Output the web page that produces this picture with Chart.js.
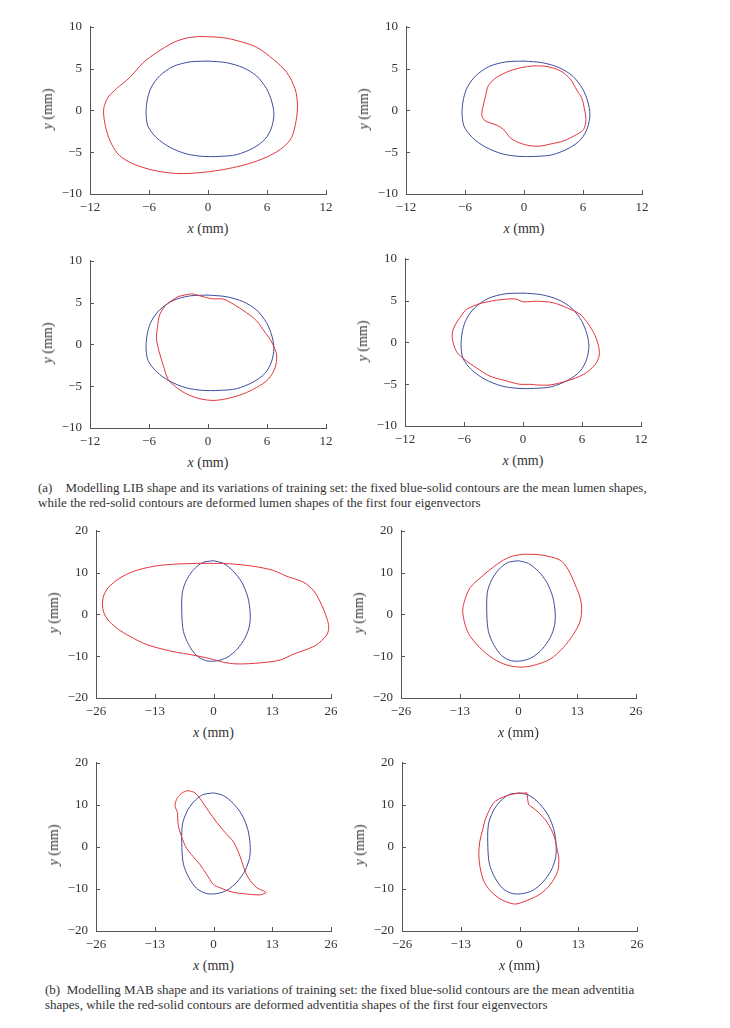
<!DOCTYPE html>
<html>
<head>
<meta charset="utf-8">
<script src="https://cdn.jsdelivr.net/npm/chart.js@4.4.0/dist/chart.umd.min.js"></script>
<style>
  body { margin: 0; background: #fff; width: 730px; height: 1028px; position: relative; overflow: hidden;
         font-family: "Liberation Serif", "DejaVu Serif", serif; color: #333; }
  canvas { position: absolute; }
  .yt { position: absolute; transform: translate(-50%, -50%) rotate(-90deg); font-size: 14px; white-space: nowrap; }
  .xt { position: absolute; transform: translate(-50%, -50%); font-size: 14px; white-space: nowrap; }
  .cap { position: absolute; font-size: 13px; white-space: nowrap; transform: translateY(-50%); }
</style>
</head>
<body>
<div class="cap" style="left:38px;top:488px">(a)&nbsp;&nbsp;&nbsp; Modelling LIB shape and its variations of training set: the fixed blue-solid contours are the mean lumen shapes,</div>
<div class="cap" style="left:38px;top:503px">while the red-solid contours are deformed lumen shapes of the first four eigenvectors</div>
<div class="cap" style="left:45px;top:990px">(b)&nbsp; Modelling MAB shape and its variations of training set: the fixed blue-solid contours are the mean adventitia</div>
<div class="cap" style="left:45px;top:1005px">shapes, while the red-solid contours are deformed adventitia shapes of the first four eigenvectors</div>

<script>
// =========================
// DATA (x, y in mm)
// =========================

const xTicksLib = [-12, -6, 0, 6, 12];
const yTicksLib = [-10, -5, 0, 5, 10];
const xTicksMab = [-26, -13, 0, 13, 26];
const yTicksMab = [-20, -10, 0, 10, 20];

// mean lumen shape (blue)
const lumenMean = [
  [0, 5.9], [1.9, 5.7], [3.6, 5.1], [4.95, 4.1], [5.95, 2.6], [6.5, 1.0], [6.7, -0.5],
  [6.45, -2.1], [5.8, -3.45], [4.6, -4.5], [2.9, -5.3], [1.2, -5.5], [-0.5, -5.5],
  [-2.2, -5.2], [-3.9, -4.4], [-5.25, -3.25], [-6.1, -1.9], [-6.3, -0.3], [-6.15, 1.4],
  [-5.75, 2.8], [-4.9, 4.15], [-3.55, 5.25], [-1.85, 5.8], [0, 5.9]
];

// deformed lumen shapes (red), first four eigenvectors
const lumenEig1 = [
  [-0.85, 8.85], [1.55, 8.7], [3.25, 8.25], [4.95, 7.55], [6.65, 6.1], [8.0, 4.55], [8.85, 2.6],
  [9.1, 0.65], [8.95, -1.3], [8.5, -3.25], [7.65, -4.4], [6.3, -5.4], [4.6, -6.2], [2.9, -6.75],
  [1.2, -7.15], [-0.85, -7.45], [-3.2, -7.55], [-5.6, -7.15], [-7.6, -6.4], [-9.0, -5.4],
  [-9.8, -4.05], [-10.25, -2.7], [-10.55, -1.1], [-10.6, 0.25], [-10.15, 1.6], [-9.3, 2.6],
  [-7.95, 3.95], [-6.6, 5.7], [-5.25, 6.9], [-3.55, 8.1], [-2.2, 8.65], [-0.85, 8.85]
];
const lumenEig2 = [
  [0.97, 5.33], [2.33, 5.25], [3.68, 4.74], [4.7, 3.76], [5.38, 2.4], [5.89, 1.42], [6.13, 0.25],
  [6.3, -1.1], [6.06, -2.28], [5.38, -2.87], [4.02, -3.65], [2.66, -4.03], [1.65, -4.27],
  [0.63, -4.23], [-0.56, -3.84], [-1.41, -3.26], [-2.09, -2.28], [-2.77, -1.77], [-3.96, -1.23],
  [-4.3, -0.53], [-4.13, 0.64], [-3.89, 1.81], [-3.62, 2.98], [-2.77, 3.96], [-1.41, 4.74],
  [-0.22, 5.13], [0.97, 5.33]
];
const lumenEig3 = [
  [-3.04, 5.73], [-1.68, 6.04], [-0.83, 5.81], [0.36, 5.46], [1.54, 5.42], [2.39, 4.95],
  [3.92, 3.79], [4.94, 2.82], [5.79, 1.46], [6.47, 0.29], [6.98, -1.26], [6.81, -2.82],
  [6.13, -4.17], [4.94, -5.15], [3.58, -5.92], [1.88, -6.5], [0.53, -6.7], [-0.83, -6.5],
  [-2.19, -5.92], [-3.21, -5.15], [-4.06, -4.17], [-4.57, -2.43], [-4.97, -0.87], [-5.24, 0.68],
  [-5.14, 2.04], [-4.9, 3.59], [-4.23, 4.76], [-3.04, 5.73]
];
const lumenEig4 = [
  [-4.37, 4.66], [-2.68, 5.05], [-0.81, 5.2], [0.03, 4.85], [1.39, 4.93], [3.08, 4.74],
  [4.44, 4.15], [5.8, 3.37], [6.64, 2.2], [7.32, 0.84], [7.66, -0.33], [7.76, -1.5],
  [7.32, -2.67], [6.14, -3.84], [4.44, -4.62], [2.75, -5.09], [1.39, -5.09], [0.71, -5.01],
  [-0.31, -5.01], [-1.66, -4.62], [-3.36, -4.04], [-4.71, -3.06], [-5.9, -2.09], [-6.75, -1.11],
  [-7.19, 0.45], [-7.08, 1.62], [-6.41, 2.98], [-5.73, 3.96], [-4.37, 4.66]
];

// mean adventitia shape (blue)
const mabMean = [
  [0, 12.85], [2.2, 12.2], [4.4, 10.3], [6.3, 7.6], [7.6, 4.1], [8.1, 0.6], [8.0, -2.5],
  [7.0, -5.6], [5.2, -8.35], [3.0, -10.3], [0.74, -11.1], [-1.5, -11.1], [-3.7, -9.9],
  [-5.5, -7.2], [-6.65, -4.1], [-7.0, -0.2], [-6.9, 5.2], [-5.9, 8.35], [-4.4, 10.7],
  [-2.4, 12.4], [0, 12.85]
];

// deformed adventitia shapes (red)
const mabEig1 = [
  [-3.7, 12.2], [0, 12.2], [3.7, 12.1], [8.9, 11.5], [13.3, 10.5], [16.25, 9.1], [19.9, 7.7],
  [22.2, 5.6], [24.0, 2.1], [25.1, -1.0], [25.5, -2.9], [25.1, -4.85], [22.9, -7.2],
  [20.7, -8.35], [17.7, -9.5], [14.8, -10.9], [10.3, -11.6], [5.2, -11.85], [2.2, -11.45],
  [0, -10.8], [-3.7, -9.9], [-9.6, -8.75], [-14.8, -7.2], [-18.5, -5.25], [-21.4, -3.3],
  [-23.6, -0.97], [-24.5, 1.35], [-24.4, 4.1], [-23.3, 6.4], [-20.7, 8.7], [-17.7, 10.3],
  [-13.3, 11.5], [-8.9, 12.0], [-3.7, 12.2]
];
const mabEig2 = [
  [1.07, 14.4], [4.76, 14.25], [9.2, 13.0], [11.0, 10.7], [12.5, 7.2], [13.6, 4.1], [13.98, 1.36],
  [13.6, -1.75], [12.1, -4.85], [9.9, -7.95], [7.0, -10.7], [4.0, -12.0], [1.07, -12.6],
  [-1.9, -12.3], [-4.8, -11.1], [-7.8, -8.75], [-10.7, -5.25], [-11.8, -2.5], [-12.35, 0.97],
  [-11.8, 3.7], [-10.7, 6.4], [-8.5, 8.7], [-6.3, 10.7], [-3.35, 13.0], [-1.14, 14.0], [1.07, 14.4]
];
const mabEig3 = [
  [-5.6, 13.4], [-6.7, 13.0], [-8.0, 11.7], [-8.5, 9.75], [-8.0, 8.2], [-7.8, 5.1], [-7.05, 2.4],
  [-5.95, -0.35], [-4.5, -2.3], [-3.0, -4.2], [-1.5, -6.55], [-0.04, -8.9], [1.4, -9.7],
  [4.4, -10.8], [7.3, -11.2], [10.3, -11.4], [11.6, -10.8], [9.6, -9.7], [7.7, -7.35],
  [6.6, -4.6], [5.9, -2.3], [4.4, 1.2], [2.5, 3.5], [0.7, 5.85], [-1.15, 8.6], [-2.6, 10.9],
  [-4.1, 12.85], [-5.6, 13.4]
];
const mabEig4 = [
  [1.66, 12.85], [2.0, 10.1], [2.4, 9.75], [4.2, 8.2], [6.1, 5.85], [7.6, 2.75], [8.3, -0.35],
  [8.7, -2.7], [8.45, -5.8], [6.85, -8.9], [4.6, -11.2], [2.4, -12.4], [-0.55, -13.55],
  [-2.0, -13.4], [-4.25, -12.4], [-6.45, -10.45], [-7.9, -8.1], [-8.7, -5.0], [-9.0, -1.9],
  [-8.8, 1.2], [-8.1, 4.3], [-7.55, 6.6], [-5.7, 10.5], [-3.5, 11.9], [-1.3, 12.6], [1.66, 12.85]
];

// =========================
// PANELS (plot area boxes in px)
// =========================

const RED = "#e2343c";
const BLUE = "#3b4d9c";
const AXIS = "#555";

const panels = [
  { box: [90, 23, 326, 194], red: lumenEig1, mean: lumenMean, xt: xTicksLib, yt: yTicksLib },
  { box: [406, 23, 642, 194], red: lumenEig2, mean: lumenMean, xt: xTicksLib, yt: yTicksLib },
  { box: [90, 257, 326, 428], red: lumenEig3, mean: lumenMean, xt: xTicksLib, yt: yTicksLib },
  { box: [405, 255, 641, 426], red: lumenEig4, mean: lumenMean, xt: xTicksLib, yt: yTicksLib },
  { box: [96, 527, 331, 698], red: mabEig1, mean: mabMean, xt: xTicksMab, yt: yTicksMab },
  { box: [401, 527, 636, 698], red: mabEig2, mean: mabMean, xt: xTicksMab, yt: yTicksMab },
  { box: [96, 759, 331, 931], red: mabEig3, mean: mabMean, xt: xTicksMab, yt: yTicksMab },
  { box: [402, 759, 637, 931], red: mabEig4, mean: mabMean, xt: xTicksMab, yt: yTicksMab },
];

// inward tick marks
const innerTicks = {
  id: "innerTicks",
  afterDraw(chart) {
    const ctx = chart.ctx;
    const xs = chart.scales.x;
    const ys = chart.scales.y;
    const a = chart.chartArea;
    ctx.save();
    ctx.strokeStyle = AXIS;
    ctx.lineWidth = 1;
    ctx.beginPath();
    xs.ticks.forEach((t) => {
      const px = Math.round(xs.getPixelForValue(t.value)) + 0.5;
      ctx.moveTo(px, a.bottom);
      ctx.lineTo(px, a.bottom - 4);
    });
    ys.ticks.forEach((t) => {
      const py = Math.round(ys.getPixelForValue(t.value)) + 0.5;
      ctx.moveTo(a.left, py);
      ctx.lineTo(a.left + 4, py);
    });
    ctx.stroke();
    ctx.restore();
  },
};

const LEFT = 50, TOP = 12, RIGHT = 22, BOTTOM = 26;

function toPts(arr) {
  return arr.map((p) => ({ x: p[0], y: p[1] }));
}

function fmt(v) {
  return String(v).replace("-", "\u2212");
}

panels.forEach((p) => {
  const [l, t, r, b] = p.box;
  const w = r - l + LEFT + RIGHT;
  const h = b - t + TOP + BOTTOM;

  const cv = document.createElement("canvas");
  cv.width = w;
  cv.height = h;
  cv.style.left = l - LEFT + "px";
  cv.style.top = t - TOP + "px";
  cv.style.width = w + "px";
  cv.style.height = h + "px";
  document.body.appendChild(cv);

  const xt = document.createElement("div");
  xt.className = "xt";
  xt.innerHTML = "<i>x</i> (mm)";
  xt.style.left = (l + r) / 2 + "px";
  xt.style.top = b + 35 + "px";
  document.body.appendChild(xt);

  const yt = document.createElement("div");
  yt.className = "yt";
  yt.innerHTML = "<i>y</i> (mm)";
  yt.style.left = l - 42 + "px";
  yt.style.top = (t + b) / 2 + "px";
  document.body.appendChild(yt);

  const tickFont = { family: "'Liberation Serif', 'DejaVu Serif', serif", size: 13 };

  new Chart(cv, {
    type: "scatter",
    data: {
      datasets: [
        {
          data: toPts(p.red),
          borderColor: RED,
          borderWidth: 1,
          showLine: true,
          pointRadius: 0,
          tension: 0.3,
          fill: false,
        },
        {
          data: toPts(p.mean),
          borderColor: BLUE,
          borderWidth: 1,
          showLine: true,
          pointRadius: 0,
          tension: 0.3,
          fill: false,
        },
      ],
    },
    options: {
      responsive: false,
      animation: false,
      devicePixelRatio: 1,
      layout: { padding: { top: TOP, right: RIGHT, left: 0, bottom: 0 } },
      plugins: { legend: { display: false }, tooltip: { enabled: false } },
      scales: {
        x: {
          type: "linear",
          min: p.xt[0],
          max: p.xt[p.xt.length - 1],
          afterBuildTicks: (s) => { s.ticks = p.xt.map((v) => ({ value: v })); },
          afterFit: (s) => { s.height = BOTTOM; },
          grid: { display: false, drawTicks: false },
          border: { display: true, color: AXIS, width: 1 },
          ticks: { color: "#333", font: tickFont, padding: 6, maxRotation: 0, callback: fmt },
        },
        y: {
          type: "linear",
          min: p.yt[0],
          max: p.yt[p.yt.length - 1],
          afterBuildTicks: (s) => { s.ticks = p.yt.map((v) => ({ value: v })); },
          afterFit: (s) => { s.width = LEFT; },
          grid: { display: false, drawTicks: false },
          border: { display: true, color: AXIS, width: 1 },
          ticks: { color: "#333", font: tickFont, padding: 8, callback: fmt },
        },
      },
    },
    plugins: [innerTicks],
  });
});
</script>
</body>
</html>
